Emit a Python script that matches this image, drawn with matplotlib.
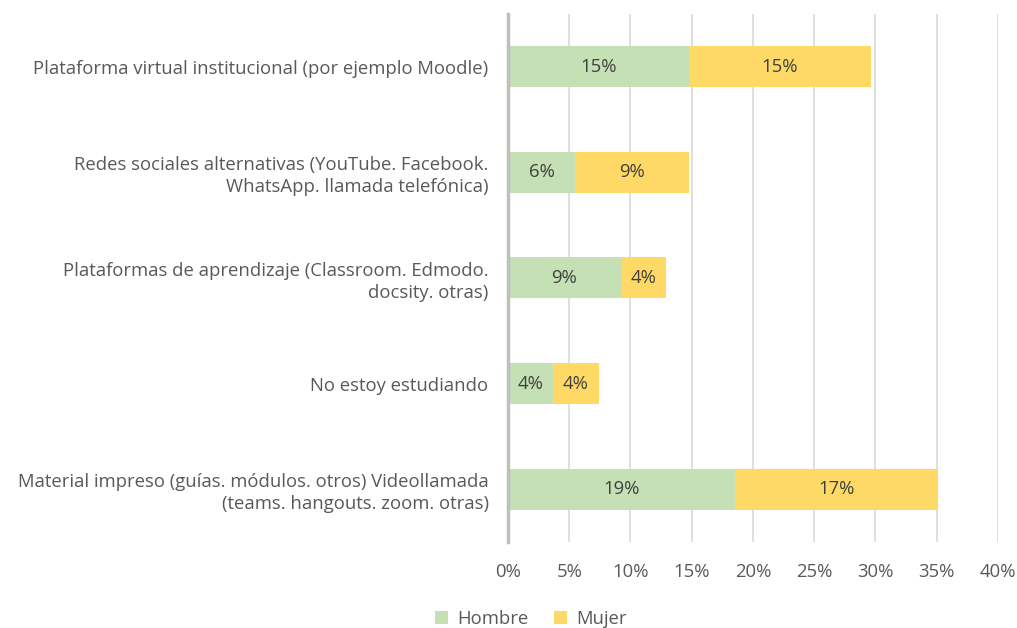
import matplotlib
matplotlib.use("Agg")
import matplotlib.pyplot as plt
import numpy as np

categories = [
    "Plataforma virtual institucional (por ejemplo Moodle)",
    "Redes sociales alternativas (YouTube. Facebook.\nWhatsApp. llamada telefónica)",
    "Plataformas de aprendizaje (Classroom. Edmodo.\ndocsity. otras)",
    "No estoy estudiando",
    "Material impreso (guías. módulos. otros) Videollamada\n(teams. hangouts. zoom. otras)",
]
hombre = [14.8, 5.5, 9.2, 3.7, 18.55]
mujer = [14.8, 9.3, 3.7, 3.7, 16.55]
series_names = ["Hombre", "Mujer"]
colors = ["#C5E0B4", "#FFD966"]
xticks = [0, 5, 10, 15, 20, 25, 30, 35, 40]

plt.rcParams['font.family'] = ['Open Sans', 'DejaVu Sans']
text_color = "#595959"
fs = 13.3

fig = plt.figure(figsize=(10.17, 6.28), dpi=100)
ax = fig.add_axes([0.4995, 0.137, 0.4818, 0.841])

y = np.arange(len(categories))
bh = 0.39
b1 = ax.barh(y, hombre, height=bh, color=colors[0], label=series_names[0], zorder=3)
b2 = ax.barh(y, mujer, left=hombre, height=bh, color=colors[1], label=series_names[1], zorder=3)

for bars, vals in ((b1, hombre), (b2, mujer)):
    for rect, v in zip(bars, vals):
        ax.text(rect.get_x() + rect.get_width() / 2, rect.get_y() + rect.get_height() / 2,
                f"{int(v + 0.5)}%", ha="center", va="center", fontsize=fs,
                color="#404040", zorder=4)

ax.set_xlim(0, 40)
ax.set_ylim(len(categories) - 0.5, -0.5)
ax.set_xticks(xticks)
ax.set_xticklabels([f"{t}%" for t in xticks])
ax.set_yticks(y)
ax.set_yticklabels(categories, linespacing=1.3)
ax.tick_params(axis="both", length=0, labelsize=fs, colors=text_color)
ax.tick_params(axis="x", pad=15)
ax.tick_params(axis="y", pad=14)
for lbl in ax.get_yticklabels():
    lbl.set_horizontalalignment("right")

ax.grid(axis="x", color="#D9D9D9", linewidth=1.2, zorder=0)
for s in ["top", "right", "bottom"]:
    ax.spines[s].set_visible(False)
ax.spines["left"].set_color("#BFBFBF")
ax.spines["left"].set_linewidth(2.5)
ax.spines["left"].set_zorder(5)

fig.legend(handles=[b1, b2], labels=series_names, loc="center", bbox_to_anchor=(0.522, 0.015),
           ncol=2, frameon=False, fontsize=fs, labelcolor=text_color,
           handlelength=0.7, handleheight=0.7, handletextpad=0.5, columnspacing=1.4)

fig.savefig("out.png", dpi=100)
